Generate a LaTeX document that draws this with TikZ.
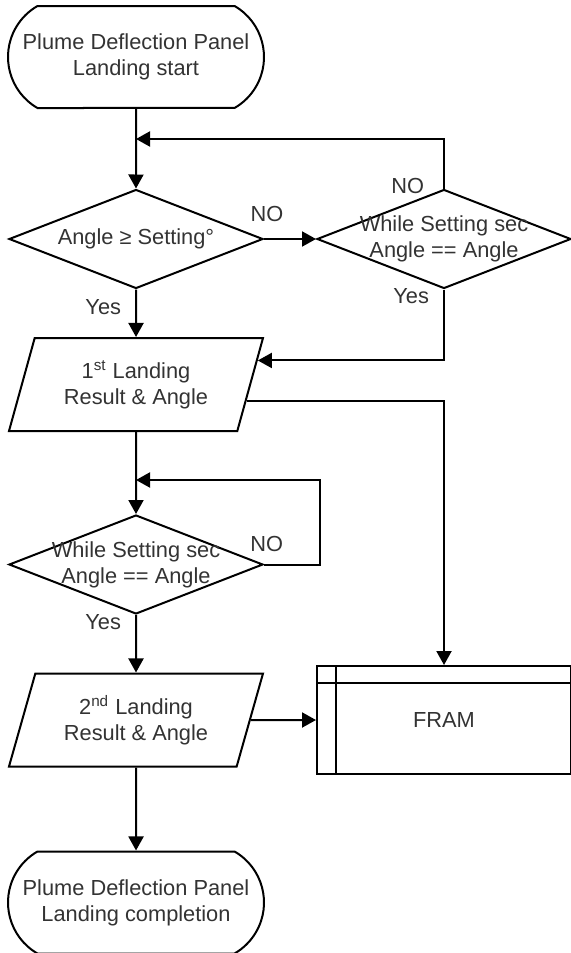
\documentclass[tikz,border=0pt]{standalone}
\usepackage{fontspec}
\setmainfont{Liberation Sans}
\usetikzlibrary{shapes.geometric,shapes.misc,arrows.meta,calc}

\begin{document}
\begin{tikzpicture}[node distance=91pt, line width=1pt,
                    >={Triangle[length=7pt,width=7.5pt]},
                    every node/.style={font=\fontsize{10.9pt}{13pt}\selectfont, text=black!80},
                    term node/.style={rounded rectangle, rounded rectangle arc length=120, draw, align=center,
                                      minimum width=128pt, minimum height=51pt, inner sep=0pt},
                    decision node/.style={diamond, draw, minimum width=127pt, minimum height=49.5pt, inner sep=0pt},
                    io node/.style={trapezium, trapezium left angle=62, trapezium right angle=118,
                                    trapezium stretches body, draw, align=center,
                                    minimum width=127pt, minimum height=46.5pt, inner sep=0pt},
                    store node/.style={rectangle, draw, minimum width=127pt, minimum height=54pt,
                                       path picture={
                                         \draw ([xshift=9.5pt]path picture bounding box.north west) -- ([xshift=9.5pt]path picture bounding box.south west);
                                         \draw ([yshift=-8.5pt]path picture bounding box.north west) -- ([yshift=-8.5pt]path picture bounding box.north east);}},
                    answer/.style={inner sep=0pt}]

  \useasboundingbox (0,0) rectangle (285pt,-476.5pt);

  \node[term node] (start) at (68pt,-28.5pt) {Plume Deflection Panel\\Landing start};
  \node[decision node, label={[align=center]center:{Angle ≥ Setting°}}] (angle) [below of=start] {};
  \node[io node] (first) [below of=angle, node distance=72.75pt] {1\textsuperscript{st} Landing\\Result \& Angle};
  \node[decision node, label={[align=center]center:{While Setting sec\\Angle == Angle}}] (hold2) [below of=first, node distance=90pt] {};
  \node[io node] (second) [below of=hold2, node distance=77.75pt] {2\textsuperscript{nd} Landing\\Result \& Angle};
  \node[term node] (stop) [below of=second, node distance=91.25pt] {Plume Deflection Panel\\Landing completion};
  \node[decision node, label={[align=center]center:{While Setting sec\\Angle == Angle}}] (hold1) [right of=angle, node distance=154pt] {};
  \node[store node] (fram) [right of=second, node distance=154pt] {FRAM};

  \coordinate (join1) at (68pt,-69.5pt);
  \coordinate (join2) at (68pt,-240pt);

  \draw[->] (start) -- (angle);
  \draw[->] (angle.east) -- node[answer, pos=0.055, above=8pt] {NO} (hold1.west);
  \draw[->] (hold1.north) |- node[answer, pos=0.03, left=9.5pt] {NO} (join1);
  \draw[->] (hold1.south) |- node[answer, pos=0.048, left=7pt] {Yes}
            ($(first.top right corner)!0.247!(first.bottom right corner)$);
  \draw[->] (angle) -- node[answer, pos=0.38, left=7pt] {Yes} (first);
  \draw[->] ($(first.top right corner)!0.677!(first.bottom right corner)$) -| (fram);
  \draw[->] (first) -- (hold2);
  \draw[->] (hold2.east) -- node[answer, pos=0.05, above=6pt] {NO} ++(28pt,0) |- (join2);
  \draw[->] (hold2) -- node[answer, pos=0.12, left=7pt] {Yes} (second);
  \draw[->] (second) -- (fram);
  \draw[->] (second) -- (stop);

\end{tikzpicture}
\end{document}
